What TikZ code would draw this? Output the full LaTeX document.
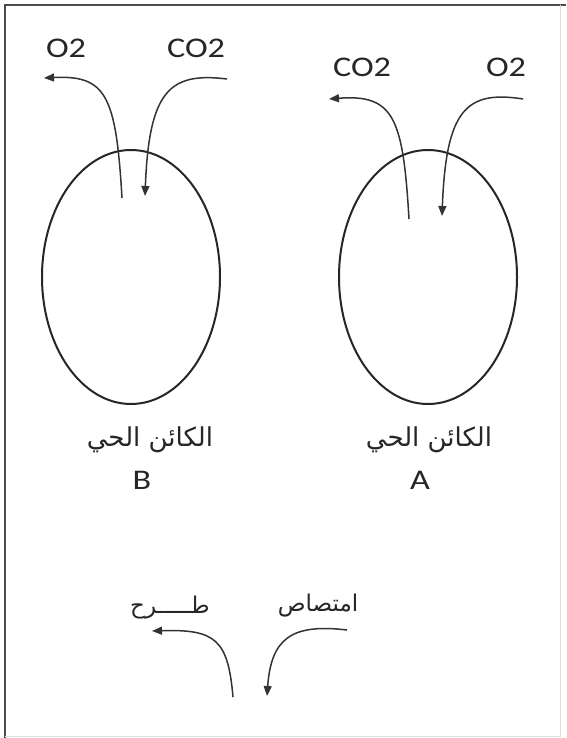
\documentclass[tikz,border=0pt]{standalone}
\usepackage{fontspec}
\setmainfont[FakeStretch=1.2]{Carlito}
\newfontfamily\arabicfont[Script=Arabic]{DejaVu Sans}
\TeXXeTstate=1
\usetikzlibrary{shapes.geometric,arrows.meta}
\begin{document}
\begin{tikzpicture}[x=1pt,y=-1pt,
  organism/.style={draw=black!85,line width=2pt,ellipse,minimum width=178pt,minimum height=254pt,inner sep=0pt},
  flow/.style={draw=black!80,line width=1.5pt,-{Triangle[length=10pt,width=8pt]}},
  gas/.style={font=\fontsize{28.5}{32}\selectfont,text=black!85},
  arlabel/.style={font=\arabicfont\fontsize{26}{30}\selectfont,text=black!85},
  arsmall/.style={font=\arabicfont\fontsize{23}{26}\selectfont,text=black!85},
  letter/.style={font=\fontsize{28.5}{32}\selectfont,text=black!85}]
\useasboundingbox (0,0) rectangle (566,738);
\fill[white] (0,0) rectangle (566,738);
% frame
\draw[black!70,line width=2.5pt] (5,738) -- (5,5) -- (566,5);
\draw[black!12,line width=1pt] (560,5) -- (560,736) -- (5,736);

% organisms
\node[organism] (B) at (131,277) {};
\node[organism] (A) at (428,277) {};

% gas labels
\node[gas] (Bo2) at (66,48) {O2};
\node[gas] (Bco2) at (196,48) {CO2};
\node[gas] (Aco2) at (362,67) {CO2};
\node[gas] (Ao2) at (506,67) {O2};

% organism labels
\node[arlabel] (Blab) at (150,440) {\beginR الكائن الحي\endR};
\node[letter] (Bl) at (142,480) {B};
\node[arlabel] (Alab) at (429,440) {\beginR الكائن الحي\endR};
\node[letter] (Al) at (420,480) {A};

% coordinates for arrows of B
\coordinate (Bout0) at (122,198);
\coordinate (Bout1) at (44,78);
\coordinate (Bin0) at (227,79);
\coordinate (Bin1) at (145,196);
\draw[flow] (Bout0) .. controls (116,95) and (106,75) .. (Bout1);
\draw[flow] (Bin0) .. controls (170,72) and (149,90) .. (Bin1);

% coordinates for arrows of A
\coordinate (Aout0) at (409,219);
\coordinate (Aout1) at (329,99);
\coordinate (Ain0) at (523,99);
\coordinate (Ain1) at (442,216);
\draw[flow] (Aout0) .. controls (403,118) and (394,94) .. (Aout1);
\draw[flow] (Ain0) .. controls (466,90) and (446,110) .. (Ain1);

% legend arrows
\node[arsmall] (expel) at (170,608) {\beginR طـــــرح\endR};
\node[arsmall] (absorb) at (318,606) {\beginR امتصاص\endR};
\coordinate (Lout0) at (233,697);
\coordinate (Lout1) at (152,631);
\coordinate (Lin0) at (347,630);
\coordinate (Lin1) at (267,696);
\draw[flow] (Lout0) .. controls (228,640) and (216,629) .. (Lout1);
\draw[flow] (Lin0) .. controls (290,623) and (271,640) .. (Lin1);
\end{tikzpicture}
\end{document}
